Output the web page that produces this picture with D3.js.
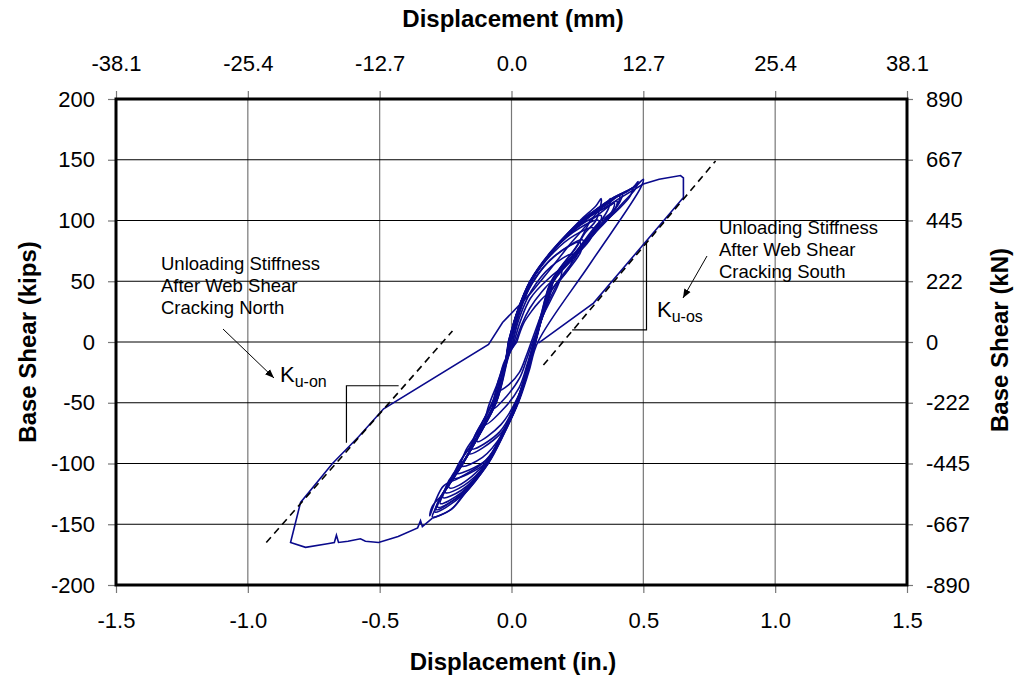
<!DOCTYPE html>
<html>
<head>
<meta charset="utf-8">
<script src="https://cdn.jsdelivr.net/npm/d3@7"></script>
<style>
  body { margin: 0; background: #fff; }
  text { font-family: "Liberation Sans", Arial, sans-serif; fill: #000; }
</style>
</head>
<body>
<script>
// displacement (in.) , base shear (kips), one array per cycle
var cycleA = [[0.02,0],[0.045,15],[0.075,25],[0.105,33],[0.13,38],[0.125,30],[0.105,18],[0.075,0],[0.055,-12],[0.03,-25],[-0.01,-35],[-0.05,-40],[-0.045,-30],[-0.025,-15],[0.02,0]];
var cycleB = [[0.015,0],[0.04,15],[0.07,28],[0.11,40],[0.155,50],[0.15,42],[0.125,25],[0.08,0],[0.058,-14],[0.03,-30],[-0.02,-45],[-0.07,-55],[-0.062,-42],[-0.035,-22],[0.015,0]];
var cycleC = [[0.01,0],[0.035,18],[0.072,36],[0.13,50],[0.19,60],[0.182,50],[0.15,35],[0.12,22],[0.085,0],[0.06,-18],[0.028,-38],[-0.03,-55],[-0.10,-68],[-0.09,-55],[-0.055,-35],[-0.025,-18],[0.01,0]];
var cycleD = [[0.005,0],[0.03,20],[0.075,42],[0.15,62],[0.23,72],[0.222,62],[0.175,48],[0.125,25],[0.088,0],[0.062,-22],[0.025,-45],[-0.04,-68],[-0.13,-82],[-0.118,-70],[-0.07,-48],[-0.028,-22],[0.005,0]];
var cycleE = [[0.0,0],[0.028,24],[0.078,48],[0.16,70],[0.27,84],[0.262,74],[0.21,58],[0.15,42],[0.118,22],[0.09,0],[0.063,-22],[0.025,-48],[-0.04,-75],[-0.16,-92],[-0.145,-80],[-0.1,-62],[-0.06,-45],[-0.03,-24],[0.0,0]];
var cycleE2 = [[0.005,0],[0.032,25],[0.082,50],[0.17,72],[0.26,82],[0.25,72],[0.2,57],[0.145,40],[0.112,20],[0.085,0],[0.058,-22],[0.02,-48],[-0.045,-74],[-0.15,-88],[-0.138,-77],[-0.095,-60],[-0.055,-42],[-0.025,-22],[0.005,0]];
var cycleF = [[-0.005,0],[0.025,25],[0.075,50],[0.16,74],[0.24,88],[0.31,94],[0.3,85],[0.24,70],[0.16,50],[0.12,25],[0.09,0],[0.062,-24],[0.024,-50],[-0.032,-75],[-0.11,-95],[-0.19,-102],[-0.175,-90],[-0.12,-72],[-0.065,-50],[-0.032,-25],[-0.005,0]];
var cycleG = [[-0.007,0],[0.024,25],[0.073,50],[0.157,75],[0.26,96],[0.34,104],[0.33,96],[0.27,80],[0.16,51],[0.122,25],[0.09,0],[0.061,-25],[0.023,-50],[-0.03,-75],[-0.1,-100],[-0.22,-112],[-0.2,-100],[-0.125,-77],[-0.062,-50],[-0.031,-25],[-0.007,0]];
var cycleG2 = [[-0.006,0],[0.026,26],[0.076,51],[0.16,76],[0.26,94],[0.33,100],[0.32,91],[0.26,76],[0.158,50],[0.12,24],[0.088,0],[0.062,-24],[0.026,-49],[-0.028,-74],[-0.095,-97],[-0.21,-108],[-0.19,-97],[-0.12,-74],[-0.06,-49],[-0.03,-24],[-0.006,0]];
var cycleH = [[-0.01,0],[0.023,25],[0.072,50],[0.155,75],[0.26,100],[0.32,112],[0.34,118],[0.335,110],[0.3,100],[0.25,80],[0.158,52],[0.12,25],[0.09,0],[0.06,-25],[0.022,-50],[-0.032,-75],[-0.095,-100],[-0.18,-118],[-0.25,-124],[-0.24,-115],[-0.186,-100],[-0.12,-75],[-0.06,-50],[-0.03,-25],[-0.01,0]];
var cycleH2 = [[-0.005,0],[0.028,26],[0.078,52],[0.165,77],[0.27,98],[0.33,108],[0.32,100],[0.28,90],[0.24,76],[0.15,50],[0.115,25],[0.085,0],[0.056,-25],[0.018,-50],[-0.036,-76],[-0.1,-100],[-0.2,-118],[-0.236,-120],[-0.225,-110],[-0.175,-96],[-0.11,-72],[-0.055,-48],[-0.025,-24],[-0.005,0]];
var cycleI = [[-0.01,0],[0.024,26],[0.074,51],[0.158,76],[0.275,102],[0.36,114],[0.375,118],[0.368,110],[0.34,100],[0.25,76],[0.155,50],[0.118,25],[0.088,0],[0.06,-26],[0.021,-51],[-0.034,-77],[-0.1,-102],[-0.19,-122],[-0.26,-128],[-0.25,-120],[-0.19,-102],[-0.122,-76],[-0.062,-51],[-0.031,-26],[-0.01,0]];
var cycleJ = [[-0.012,0],[0.022,25],[0.07,50],[0.152,75],[0.27,100],[0.35,110],[0.40,116],[0.39,108],[0.35,100],[0.255,76],[0.158,51],[0.12,25],[0.09,0],[0.06,-25],[0.023,-50],[-0.03,-75],[-0.093,-100],[-0.185,-125],[-0.28,-136],[-0.268,-128],[-0.195,-104],[-0.125,-77],[-0.062,-50],[-0.03,-25],[-0.012,0]];
var cycleJ2 = [[-0.008,0],[0.027,26],[0.077,51],[0.16,76],[0.28,101],[0.37,112],[0.39,114],[0.38,107],[0.33,98],[0.24,73],[0.15,49],[0.115,24],[0.087,0],[0.057,-25],[0.019,-50],[-0.035,-76],[-0.098,-101],[-0.19,-124],[-0.27,-133],[-0.26,-126],[-0.19,-102],[-0.118,-75],[-0.058,-50],[-0.028,-25],[-0.008,0]];
var cycleK = [[-0.01,0],[0.023,25],[0.073,50],[0.156,75],[0.272,100],[0.36,114],[0.42,122],[0.41,115],[0.36,101],[0.252,75],[0.156,50],[0.121,25],[0.091,0],[0.061,-25],[0.024,-50],[-0.029,-75],[-0.09,-100],[-0.18,-125],[-0.29,-140],[-0.275,-130],[-0.2,-105],[-0.122,-75],[-0.06,-50],[-0.03,-25],[-0.01,0]];
var cycleK2 = [[-0.008,0],[0.026,26],[0.076,51],[0.16,76],[0.275,100],[0.355,112],[0.41,120],[0.4,112],[0.355,100],[0.248,74],[0.152,49],[0.118,24],[0.088,0],[0.058,-24],[0.02,-49],[-0.033,-74],[-0.095,-99],[-0.185,-124],[-0.285,-138],[-0.27,-128],[-0.196,-104],[-0.118,-74],[-0.058,-49],[-0.028,-24],[-0.008,0]];
var cycleL = [[-0.012,0],[0.022,25],[0.071,50],[0.154,75],[0.268,100],[0.37,116],[0.44,124],[0.46,127],[0.45,120],[0.4,108],[0.36,100],[0.25,75],[0.155,50],[0.12,25],[0.09,0],[0.06,-25],[0.022,-50],[-0.03,-75],[-0.1,-98],[-0.2,-112],[-0.26,-119],[-0.31,-143],[-0.3,-135],[-0.26,-125],[-0.186,-100],[-0.12,-75],[-0.06,-50],[-0.03,-25],[-0.012,0]];
var cycleM = [[-0.01,0],[0.024,25],[0.073,50],[0.156,75],[0.27,100],[0.38,118],[0.46,127],[0.48,132],[0.47,126],[0.42,114],[0.362,100],[0.252,75],[0.157,50],[0.122,25],[0.092,0],[0.062,-25],[0.024,-50],[-0.028,-75],[-0.09,-100],[-0.18,-125],[-0.23,-138],[-0.30,-144],[-0.29,-138],[-0.26,-125],[-0.186,-100],[-0.12,-75],[-0.06,-50],[-0.03,-25],[-0.01,0]];
var cycleN = [[-0.01,0],[0.023,25],[0.072,50],[0.155,75],[0.27,100],[0.38,118],[0.47,128],[0.5,134],[0.49,127],[0.30,65],[0.10,0],[0.065,-25],[0.026,-50],[-0.027,-75],[-0.088,-100],[-0.178,-125],[-0.23,-138],[-0.30,-145]];
var lastCycle = [[-0.30,-145],[-0.338,-152],[-0.345,-147],[-0.356,-153],[-0.43,-160],[-0.504,-165],[-0.554,-164],[-0.573,-162],[-0.62,-164],[-0.656,-165],[-0.664,-159],[-0.672,-165],[-0.698,-166],[-0.781,-169],[-0.838,-165],[-0.80,-132],[-0.679,-100],[-0.58,-78],[-0.485,-55],[-0.087,-2],[-0.034,16],[0.072,40],[0.14,58],[0.22,80],[0.3,100],[0.4,117],[0.5,130],[0.56,134],[0.641,137],[0.652,135],[0.652,119],[0.311,32],[0.102,-1]];

// stiffness lines and slope triangles
var stiffNorth = [[-0.93,-165],[-0.224,9]];
var stiffSouth = [[0.121,-19],[0.774,149]];
var triNorth = [[-0.428,-36],[-0.626,-36],[-0.626,-83]];
var triSouth = [[0.23,10],[0.512,10],[0.512,83]];

var xTicks = [-1.5, -1.0, -0.5, 0.0, 0.5, 1.0, 1.5];
var inLabels = ["-1.5", "-1.0", "-0.5", "0.0", "0.5", "1.0", "1.5"];
var mmLabels = ["-38.1", "-25.4", "-12.7", "0.0", "12.7", "25.4", "38.1"];
var yTicks = [-200, -150, -100, -50, 0, 50, 100, 150, 200];
var kipLabels = ["-200", "-150", "-100", "-50", "0", "50", "100", "150", "200"];
var knLabels = ["-890", "-667", "-445", "-222", "0", "222", "445", "667", "890"];

var W = 1015, H = 677;
var svg = d3.select("body").append("svg").attr("width", W).attr("height", H);

var x = d3.scaleLinear().domain([-1.5, 1.5]).range([116, 907]);
var y = d3.scaleLinear().domain([-200, 200]).range([585, 99]);

// grid
svg.append("g").selectAll("line").data(xTicks.slice(1, -1)).enter().append("line")
  .attr("x1", d => x(d)).attr("x2", d => x(d))
  .attr("y1", y(200)).attr("y2", y(-200))
  .attr("stroke", "#777").attr("stroke-width", 1.2);
svg.append("g").selectAll("line").data(yTicks.slice(1, -1)).enter().append("line")
  .attr("x1", x(-1.5)).attr("x2", x(1.5))
  .attr("y1", d => y(d)).attr("y2", d => y(d))
  .attr("stroke", "#000").attr("stroke-width", 1);

// axes
function styleAxis(g) {
  g.select(".domain").remove();
  g.selectAll(".tick line").attr("stroke", "#777").attr("stroke-width", 1.2);
  g.selectAll(".tick text").style("font-size", "22px").style("font-family", '"Liberation Sans", Arial, sans-serif');
}
svg.append("g").attr("transform", "translate(0," + y(-200) + ")")
  .call(d3.axisBottom(x).tickValues(xTicks).tickSize(8).tickPadding(19).tickFormat((d, i) => inLabels[i]))
  .call(styleAxis);
svg.append("g").attr("transform", "translate(0," + y(200) + ")")
  .call(d3.axisTop(x).tickValues(xTicks).tickSize(8).tickPadding(20).tickFormat((d, i) => mmLabels[i]))
  .call(styleAxis);
svg.append("g").attr("transform", "translate(" + x(-1.5) + ",0)")
  .call(d3.axisLeft(y).tickValues(yTicks).tickSize(8).tickPadding(13).tickFormat((d, i) => kipLabels[i]))
  .call(styleAxis);
svg.append("g").attr("transform", "translate(" + x(1.5) + ",0)")
  .call(d3.axisRight(y).tickValues(yTicks).tickSize(6).tickPadding(13).tickFormat((d, i) => knLabels[i]))
  .call(styleAxis);

// frame
svg.append("rect").attr("x", x(-1.5)).attr("y", y(200))
  .attr("width", x(1.5) - x(-1.5)).attr("height", y(-200) - y(200))
  .attr("fill", "none").attr("stroke", "#000").attr("stroke-width", 3);

var line = d3.line().x(d => x(d[0])).y(d => y(d[1]));
var smooth = d3.line().x(d => x(d[0])).y(d => y(d[1])).curve(d3.curveCatmullRom.alpha(0.5));

// triangles
[triNorth, triSouth].forEach(function(t) {
  svg.append("path").attr("d", line(t)).attr("fill", "none").attr("stroke", "#000").attr("stroke-width", 1.2);
});

var cycles = [cycleA, cycleB, cycleC, cycleD, cycleE, cycleE2, cycleF, cycleG, cycleG2, cycleH, cycleH2, cycleI, cycleJ, cycleJ2, cycleK, cycleK2, cycleL, cycleM, cycleN];
svg.append("g").selectAll("path").data(cycles).enter().append("path")
  .attr("d", smooth).attr("fill", "none").attr("stroke", "#0a0a8c").attr("stroke-width", 1.6);
svg.append("path").attr("d", line(lastCycle)).attr("fill", "none").attr("stroke", "#0a0a8c").attr("stroke-width", 1.6);

// dashed stiffness lines
[stiffNorth, stiffSouth].forEach(function(s) {
  svg.append("path").attr("d", line(s)).attr("fill", "none").attr("stroke", "#000")
    .attr("stroke-width", 1.6).attr("stroke-dasharray", "7,5");
});

// annotations
var defs = svg.append("defs");
defs.append("marker").attr("id", "arr").attr("viewBox", "0 0 10 10").attr("refX", 10).attr("refY", 5)
  .attr("markerWidth", 9).attr("markerHeight", 9).attr("orient", "auto")
  .append("path").attr("d", "M0,1 L10,5 L0,9 Z").attr("fill", "#000");

function note(lines, tx, ty) {
  var t = svg.append("text").attr("x", tx).attr("y", ty).style("font-size", "18.5px");
  lines.forEach(function(l, i) { t.append("tspan").attr("x", tx).attr("dy", i ? 22 : 0).text(l); });
}
note(["Unloading Stiffness", "After Web Shear", "Cracking North"], 161, 270);
note(["Unloading Stiffness", "After Web Shear", "Cracking South"], 719, 234);

function kLabel(tx, ty, sub) {
  var t = svg.append("text").attr("x", tx).attr("y", ty).style("font-size", "22px");
  t.append("tspan").text("K");
  t.append("tspan").attr("dy", 5).style("font-size", "16px").text(sub);
}
kLabel(280, 382, "u-on");
kLabel(657, 317, "u-os");

svg.append("line").attr("x1", 223).attr("y1", 329).attr("x2", 274).attr("y2", 378)
  .attr("stroke", "#000").attr("stroke-width", 1).attr("marker-end", "url(#arr)");
svg.append("line").attr("x1", 707).attr("y1", 256).attr("x2", 683).attr("y2", 298)
  .attr("stroke", "#000").attr("stroke-width", 1).attr("marker-end", "url(#arr)");

// titles
svg.append("text").attr("x", 513).attr("y", 27).attr("text-anchor", "middle")
  .style("font-size", "24px").style("font-weight", "bold").text("Displacement (mm)");
svg.append("text").attr("x", 513).attr("y", 670).attr("text-anchor", "middle")
  .style("font-size", "24px").style("font-weight", "bold").text("Displacement (in.)");
svg.append("text").attr("transform", "translate(36,342) rotate(-90)").attr("text-anchor", "middle")
  .style("font-size", "24px").style("font-weight", "bold").text("Base Shear (kips)");
svg.append("text").attr("transform", "translate(1008,340) rotate(-90)").attr("text-anchor", "middle")
  .style("font-size", "24px").style("font-weight", "bold").text("Base Shear (kN)");
</script>
</body>
</html>
